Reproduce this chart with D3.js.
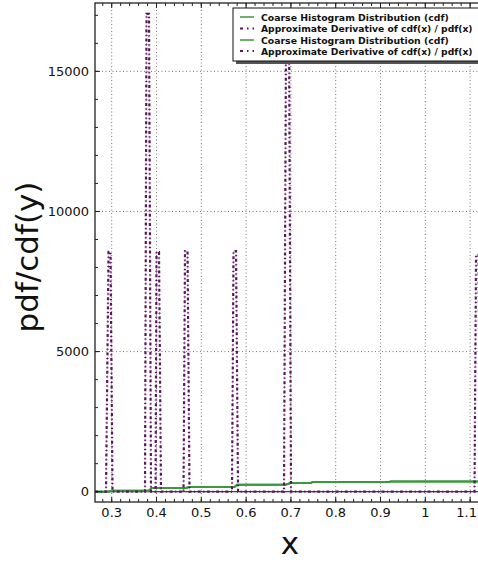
<!DOCTYPE html>
<html><head><meta charset="utf-8">
<script src="https://cdn.jsdelivr.net/npm/d3@7"></script>
<style>
html,body{margin:0;padding:0;background:#fff;overflow:hidden}
text{font-family:"DejaVu Sans",sans-serif}
</style></head>
<body>
<svg id="c" width="478" height="562"></svg>
<script>
// ---- data ----
const cdfX = [0.263, 0.288, 0.306, 0.382, 0.390, 0.466, 0.472, 0.574, 0.580, 0.688, 0.699, 0.745, 0.748, 0.920, 0.923, 1.125];
const cdfY = [0, 0, 36, 36, 132, 132, 168, 168, 250, 250, 310, 310, 346, 346, 368, 368];

const derivX = [0.263,
  0.2873, 0.2929, 0.2973, 0.3018,
  0.3743, 0.3777, 0.3833, 0.3877,
  0.3978, 0.4000, 0.4056, 0.4100,
  0.4603, 0.4636, 0.4692, 0.4737,
  0.5685, 0.5719, 0.5775, 0.5820,
  0.6846, 0.6891, 0.6958, 0.7002,
  1.1098, 1.1132, 1.1188, 1.1222];
const derivY = [0,
  0, 8560, 8560, 0,
  0, 17050, 17050, 0,
  0, 8550, 8550, 0,
  0, 8590, 8590, 0,
  0, 8590, 8590, 0,
  0, 16500, 16500, 0,
  0, 8450, 8450, 0];

const xTicks = [0.3, 0.4, 0.5, 0.6, 0.7, 0.8, 0.9, 1, 1.1];
const xMinor = d3.range(0.28, 1.13, 0.02);
const yTicks = [0, 5000, 10000, 15000];
const yMinor = d3.range(0, 17001, 1000);
const legendLabels = ["Coarse Histogram Distribution (cdf)", "Approximate Derivative of cdf(x) / pdf(x)",
                      "Coarse Histogram Distribution (cdf)", "Approximate Derivative of cdf(x) / pdf(x)"];
const xLabel = "x", yLabel = "pdf/cdf(y)";

// ---- layout ----
const W = 478;
const L = 95, T = 3, B = 502, R = 490;
const green = "#3a993a", purple = "#5b155e";
const x = d3.scaleLinear().domain([0.2627, 0.2627 + (R - L) / 448]).range([L, R]);
const y = d3.scaleLinear().domain([-368, 17440]).range([B, T]);

const svg = d3.select("#c");
const g = svg.append("g");

// grid
g.append("g").selectAll("line").data(xTicks).join("line")
  .attr("x1", d => x(d)).attr("x2", d => x(d)).attr("y1", T).attr("y2", B)
  .attr("stroke", "#777").attr("stroke-width", 1).attr("stroke-dasharray", "1,2.5");
g.append("g").selectAll("line").data(yTicks).join("line")
  .attr("x1", L).attr("x2", R).attr("y1", d => y(d)).attr("y2", d => y(d))
  .attr("stroke", "#777").attr("stroke-width", 1).attr("stroke-dasharray", "1,2.5");

// zero line
g.append("line").attr("x1", L).attr("x2", R).attr("y1", y(0)).attr("y2", y(0))
  .attr("stroke", "#444").attr("stroke-width", 1.3);

svg.append("clipPath").attr("id", "pc").append("rect")
  .attr("x", L).attr("y", T).attr("width", R - L).attr("height", B - T);
const plot = g.append("g").attr("clip-path", "url(#pc)");

const cdfPts = cdfX.map((d, i) => [d, cdfY[i]]);
const derPts = derivX.map((d, i) => [d, derivY[i]]);
const line = d3.line().x(d => x(d[0])).y(d => y(d[1]));

// cdf series (twice, as in the legend)
for (let k = 0; k < 2; k++) {
  plot.append("path").attr("d", line(cdfPts)).attr("fill", "none")
    .attr("stroke", green).attr("stroke-width", 2);
}
// derivative series (twice)
plot.append("path").attr("d", line(derPts)).attr("fill", "none")
  .attr("stroke", purple).attr("stroke-width", 2.2).attr("stroke-dasharray", "3,2.6,1,2.6");
plot.append("path").attr("d", line(derPts)).attr("fill", "none")
  .attr("stroke", purple).attr("stroke-width", 1.2).attr("stroke-dasharray", "3,2.6,1,2.6")
  .attr("stroke-dashoffset", 4.5).attr("opacity", 0.45);

// frame
g.append("rect").attr("x", L).attr("y", T).attr("width", R - L).attr("height", B - T)
  .attr("fill", "none").attr("stroke", "#222").attr("stroke-width", 1.3);

// ticks (inside)
const tk = g.append("g").attr("stroke", "#222").attr("stroke-width", 1);
xMinor.forEach(d => {
  tk.append("line").attr("x1", x(d)).attr("x2", x(d)).attr("y1", B).attr("y2", B - 3);
  tk.append("line").attr("x1", x(d)).attr("x2", x(d)).attr("y1", T).attr("y2", T + 3);
});
xTicks.forEach(d => {
  tk.append("line").attr("x1", x(d)).attr("x2", x(d)).attr("y1", B).attr("y2", B - 5);
  tk.append("line").attr("x1", x(d)).attr("x2", x(d)).attr("y1", T).attr("y2", T + 5);
});
yMinor.forEach(d => {
  tk.append("line").attr("x1", L).attr("x2", L + 3).attr("y1", y(d)).attr("y2", y(d));
});
yTicks.forEach(d => {
  tk.append("line").attr("x1", L).attr("x2", L + 5).attr("y1", y(d)).attr("y2", y(d));
});

// tick labels
g.append("g").selectAll("text").data(xTicks).join("text")
  .attr("x", d => x(d)).attr("y", 517).attr("text-anchor", "middle")
  .attr("font-size", 13).attr("fill", "#111").text(d => d3.format("")(d))
  .each(function() {
    const bb = this.getBBox();
    if (bb.x + bb.width > W - 1) d3.select(this).attr("x", +this.getAttribute("x") - (bb.x + bb.width - (W - 1)));
  });
g.append("g").selectAll("text").data(yTicks).join("text")
  .attr("x", 89).attr("y", d => y(d) + 4.5).attr("text-anchor", "end")
  .attr("font-size", 13).attr("fill", "#111").text(d => d);

// axis titles
g.append("text").attr("x", 290).attr("y", 554).attr("text-anchor", "middle")
  .attr("font-size", 31).attr("fill", "#111").text(xLabel);
g.append("text").attr("transform", "translate(38,257) rotate(-90)").attr("text-anchor", "middle")
  .attr("font-size", 31).attr("fill", "#111").text(yLabel);

// legend
const lg = g.append("g");
lg.append("rect").attr("x", 236).attr("y", 11).attr("width", 260).attr("height", 53).attr("fill", "#555");
lg.append("rect").attr("x", 233).attr("y", 8).attr("width", 260).attr("height", 53)
  .attr("fill", "#fff").attr("stroke", "#111").attr("stroke-width", 1);
const rowY = [17, 28.5, 40, 51];
legendLabels.forEach((t, i) => {
  const isCdf = i % 2 === 0;
  lg.append("line").attr("x1", 240).attr("x2", 254).attr("y1", rowY[i]).attr("y2", rowY[i])
    .attr("stroke", isCdf ? green : purple).attr("stroke-width", isCdf ? 1.5 : 2.2)
    .attr("stroke-dasharray", isCdf ? null : "3,4,1.5,4");
  const tx = lg.append("text").attr("x", 261).attr("y", rowY[i] + 3.6).attr("font-size", 10)
    .attr("font-weight", "bold").attr("fill", "#111").text(t);
  const w = tx.node().getComputedTextLength();
  const target = isCdf ? 188 : 212;
  tx.attr("font-size", 10 * target / w);
});
</script>
</body></html>
